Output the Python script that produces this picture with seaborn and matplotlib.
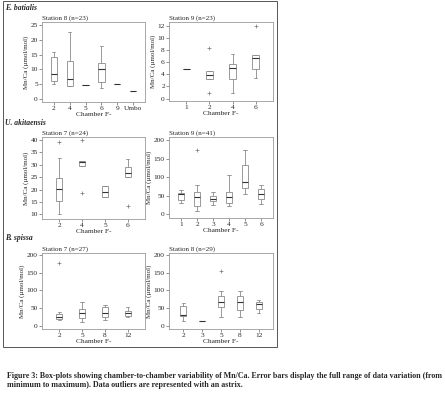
import matplotlib
matplotlib.use("Agg")
import matplotlib.pyplot as plt
import pandas as pd
import seaborn as sns
from matplotlib.patches import Rectangle

W, H = 445, 395

# E. batialis, station 8
bat8_chambers = ["2", "4", "5", "6", "9", "Umbo"]
bat8_values = [[5.0, 6.1, 8.4, 14.1, 16.0], [4.3, 4.4, 6.8, 12.8, 22.5], [4.7],
               [3.6, 5.9, 10.1, 12.0, 18.0], [5.0, 5.0], [2.7]]

# E. batialis, station 9
bat9_chambers = ["1", "2", "4", "6"]
bat9_values = [[4.8], [0.9, 3.3, 3.8, 4.6, 8.4], [0.9, 3.3, 5.1, 5.7, 7.4],
               [3.4, 4.8, 6.7, 7.2, 12.0]]

# U. akitaensis, station 7
aki7_chambers = ["2", "4", "5", "6"]
aki7_values = [[10.0, 12.5, 15.5, 17.5, 20.1, 22.5, 24.8, 32.7, 39.1],
               [18.6, 29.6, 31.0, 31.6, 40.0], [16.9, 16.9, 19.2, 21.5, 21.5],
               [13.5, 25.0, 26.6, 29.0, 32.2]]

# U. akitaensis, station 9
aki9_chambers = ["1", "2", "3", "4", "5", "6"]
aki9_values = [[30, 40, 55, 58, 65], [10, 16, 22, 35, 46, 55, 61, 79, 173],
               [25, 36, 41, 50, 61], [23, 30, 46, 61, 106], [55, 72, 88, 133, 175],
               [29, 41, 54, 68, 79]]

# B. spissa, station 7
spi7_chambers = ["2", "5", "8", "12"]
spi7_values = [[17, 19, 20, 22, 25, 28, 32, 38, 177], [11, 22, 36, 47, 68],
               [17, 25, 36, 52, 59], [26, 29, 36, 43, 52]]

# B. spissa, station 8
spi8_chambers = ["2", "3", "5", "8", "12"]
spi8_values = [[14, 28, 31, 57, 63], [14], [25, 40, 52, 60, 66, 75, 84, 97, 155],
               [25, 45, 66, 84, 97], [36, 48, 61, 66, 73]]

caption = ["Figure 3: Box-plots showing chamber-to-chamber variability of Mn/Ca. "
           "Error bars display the full range of data variation (from",
           "minimum to maximum). Data outliers are represented with an astrix."]

sns.set_theme(style="ticks")
plt.rcParams["font.family"] = ["Liberation Serif", "DejaVu Serif"]

fig = plt.figure(figsize=(W / 100, H / 100), dpi=100)


def px_axes(x0, y0, x1, y1):
    return fig.add_axes([x0 / W, 1 - y1 / H, (x1 - x0) / W, (y1 - y0) / H])


def draw_panel(ax, chambers, values, title, yticks, ylim):
    rows = [(c, v) for c, vals in zip(chambers, values) for v in vals]
    df = pd.DataFrame(rows, columns=["chamber", "mnca"])
    n = len(chambers)
    sns.boxplot(data=df, x="chamber", y="mnca", order=chambers,
                width=0.0625 * (n + 0.5), color="white", linecolor="#8a8a8a",
                linewidth=0.6, fliersize=2.2,
                flierprops=dict(marker="+", markeredgecolor="#777777", markeredgewidth=0.5),
                medianprops=dict(color="#333333", linewidth=0.8), ax=ax)
    ax.set_xlim(-0.75, n - 0.25)
    ax.set_ylim(*ylim)
    ax.set_yticks(yticks)
    ax.set_title(title, loc="left", fontsize=5, pad=2)
    ax.set_xlabel("Chamber F-", fontsize=5.3, labelpad=0.5)
    ax.set_ylabel("Mn/Ca (\u00b5mol/mol)", fontsize=5, labelpad=1)
    ax.tick_params(labelsize=5.3, length=2, width=0.5, pad=1, color="#666666")
    for s in ax.spines.values():
        s.set_visible(True)
        s.set_linewidth(0.6)
        s.set_color("#9a9a9a")


draw_panel(px_axes(42, 22, 145, 102), bat8_chambers, bat8_values,
           "Station 8 (n=23)", range(0, 26, 5), (-1, 26))
draw_panel(px_axes(169, 22, 273, 101), bat9_chambers, bat9_values,
           "Station 9 (n=23)", range(0, 13, 2), (-0.4, 12.6))
draw_panel(px_axes(42, 137, 145, 219), aki7_chambers, aki7_values,
           "Station 7 (n=24)", range(10, 41, 5), (8.1, 41.2))
draw_panel(px_axes(169, 137, 273, 218), aki9_chambers, aki9_values,
           "Station 9 (n=41)", range(0, 201, 50), (-10, 209))
draw_panel(px_axes(42, 253, 145, 329), spi7_chambers, spi7_values,
           "Station 7 (n=27)", range(0, 201, 50), (-9, 205))
draw_panel(px_axes(169, 253, 273, 329), spi8_chambers, spi8_values,
           "Station 8 (n=29)", range(0, 201, 50), (-9, 205))

for label, y in [("E. batialis", 8), ("U. akitaensis", 123), ("B. spissa", 238)]:
    fig.text(5 / W, 1 - y / H, label, fontsize=5.5, fontstyle="italic",
             fontweight="bold", va="center", ha="left")

fig.add_artist(Rectangle((3 / W, 1 - 347 / H), 274 / W, 346 / H,
                         transform=fig.transFigure, fill=False, lw=0.7, ec="#555555"))

fig.text(7 / W, 1 - 376 / H, caption[0], fontsize=5.7, fontweight="bold", va="center")
fig.text(7 / W, 1 - 385 / H, caption[1], fontsize=5.7, fontweight="bold", va="center")

fig.savefig("out.png", dpi=100)
